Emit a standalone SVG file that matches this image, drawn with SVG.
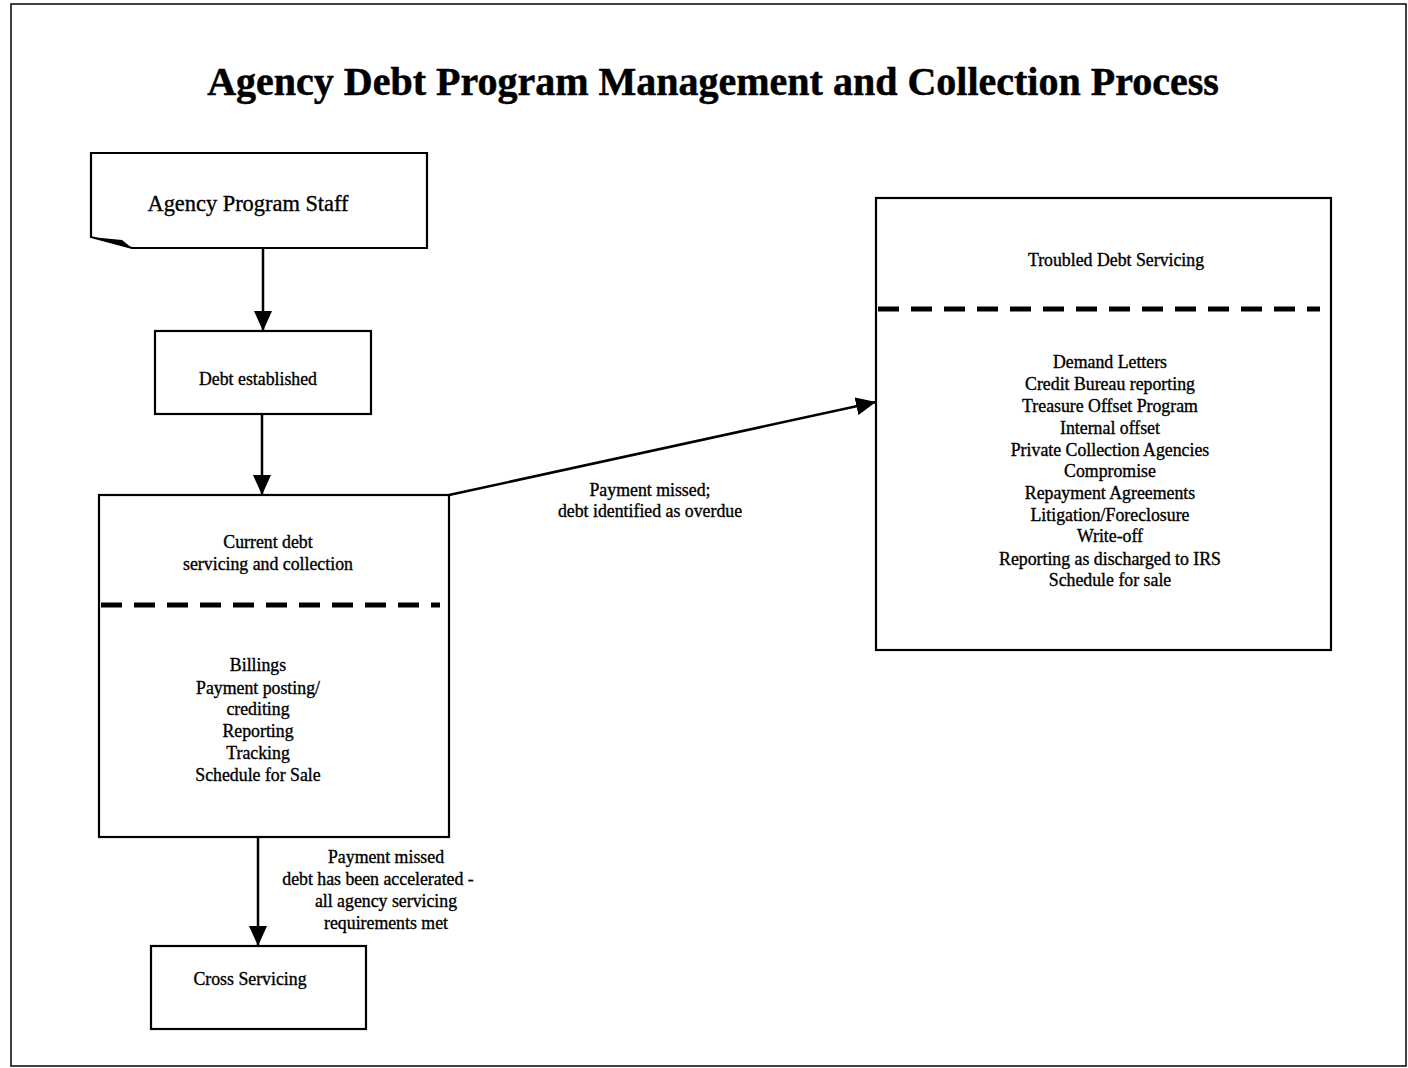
<svg xmlns="http://www.w3.org/2000/svg" width="1408" height="1068" viewBox="0 0 1408 1068">
<style>
text{font-family:"Liberation Serif","Times New Roman",serif;fill:#000;text-anchor:middle;stroke:#000;stroke-width:0.35}
.t{font-size:17.8px}
.title{font-size:40px;font-weight:bold;stroke-width:0.5}
.box{fill:#fff;stroke:#000;stroke-width:2.2}
.dash{stroke:#000;stroke-width:5;stroke-dasharray:21 12;fill:none}
.conn{stroke:#000;stroke-width:2.5;fill:none}
</style>
<defs>
<marker id="arr" viewBox="0 0 20 18" refX="20" refY="9" markerWidth="20" markerHeight="18" markerUnits="userSpaceOnUse" orient="auto">
<path d="M0,0 L20,9 L0,18 Z" fill="#000"/>
</marker>
</defs>
<rect x="0" y="0" width="1408" height="1068" fill="#fff"/>
<rect x="11" y="4" width="1395" height="1062" fill="none" stroke="#000" stroke-width="1.5"/>
<text class="title" x="713" y="95">Agency Debt Program Management and Collection Process</text>

<g id="connectors">
<line class="conn" x1="263" y1="248" x2="263" y2="331" marker-end="url(#arr)"/>
<line class="conn" x1="262" y1="414" x2="262" y2="495" marker-end="url(#arr)"/>
<line class="conn" x1="449" y1="495" x2="876" y2="402" marker-end="url(#arr)"/>
<line class="conn" x1="258" y1="837" x2="258" y2="946" marker-end="url(#arr)"/>
<g id="label-overdue">
<text class="t" x="650" y="496">Payment missed;</text>
<text class="t" x="650" y="517">debt identified as overdue</text>
</g>
<g id="label-accelerated">
<text class="t" x="386" y="863">Payment missed</text>
<text class="t" x="378" y="885">debt has been accelerated -</text>
<text class="t" x="386" y="907">all agency servicing</text>
<text class="t" x="386" y="929">requirements met</text>
</g>
</g>

<g id="agency-program-staff">
<path class="box" d="M91,153 L427,153 L427,248 L132,248 L91,237 Z"/>
<path d="M91,237 L132,248 L122,240 Z" fill="#000"/>
<text x="248" y="211" style="font-size:22.4px">Agency Program Staff</text>
</g>

<g id="debt-established">
<rect class="box" x="155" y="331" width="216" height="83"/>
<text class="t" x="258" y="385">Debt established</text>
</g>

<g id="current-debt">
<rect class="box" x="99" y="495" width="350" height="342"/>
<line class="dash" x1="101" y1="605" x2="440" y2="605"/>
<text class="t" x="268" y="548">Current debt</text>
<text class="t" x="268" y="570">servicing and collection</text>
<text class="t" x="258" y="671">Billings</text>
<text class="t" x="258" y="694">Payment posting/</text>
<text class="t" x="258" y="715">crediting</text>
<text class="t" x="258" y="737">Reporting</text>
<text class="t" x="258" y="759">Tracking</text>
<text class="t" x="258" y="781">Schedule for Sale</text>
</g>

<g id="cross-servicing">
<rect class="box" x="151" y="946" width="215" height="83"/>
<text class="t" x="250" y="985">Cross Servicing</text>
</g>

<g id="troubled-debt">
<rect class="box" x="876" y="198" width="455" height="452"/>
<line class="dash" x1="878" y1="309" x2="1320" y2="309"/>
<text class="t" x="1116" y="266">Troubled Debt Servicing</text>
<text class="t" x="1110" y="368">Demand Letters</text>
<text class="t" x="1110" y="390">Credit Bureau reporting</text>
<text class="t" x="1110" y="412">Treasure Offset Program</text>
<text class="t" x="1110" y="434">Internal offset</text>
<text class="t" x="1110" y="456">Private Collection Agencies</text>
<text class="t" x="1110" y="477">Compromise</text>
<text class="t" x="1110" y="499">Repayment Agreements</text>
<text class="t" x="1110" y="521">Litigation/Foreclosure</text>
<text class="t" x="1110" y="542">Write-off</text>
<text class="t" x="1110" y="565">Reporting as discharged to IRS</text>
<text class="t" x="1110" y="586">Schedule for sale</text>
</g>
</svg>
